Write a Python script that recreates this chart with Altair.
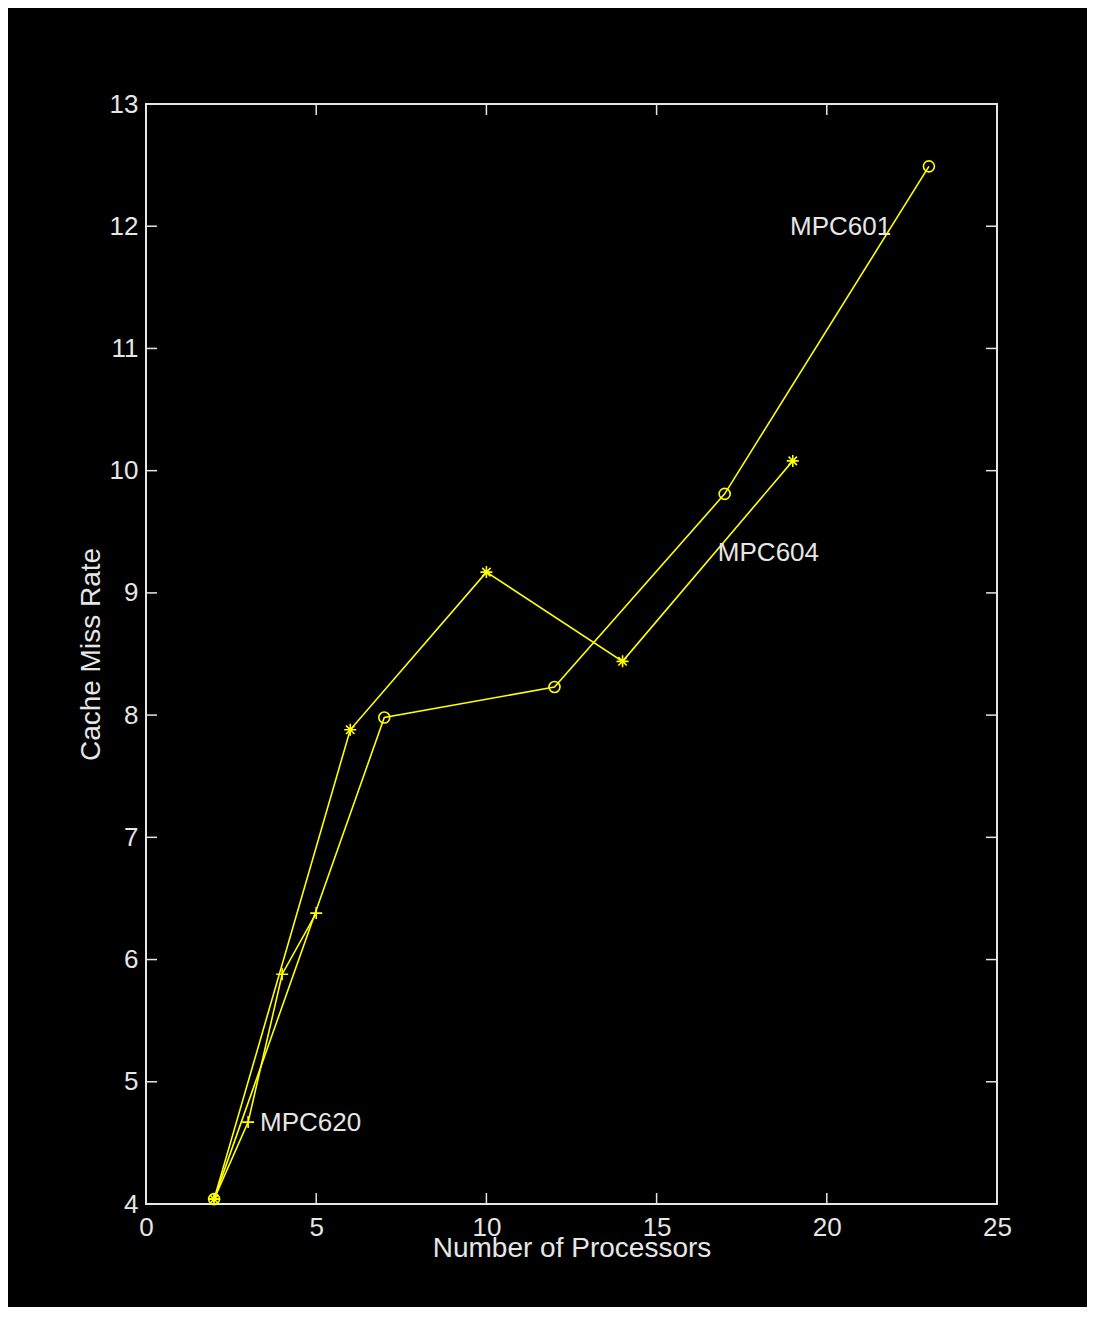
import altair as alt
import pandas as pd

# ---- data ----
mpc601_x = [2, 7, 12, 17, 23]
mpc601_y = [4.04, 7.98, 8.23, 9.81, 12.49]
mpc604_x = [2, 6, 10, 14, 19]
mpc604_y = [4.04, 7.88, 9.17, 8.44, 10.08]
mpc620_x = [2, 3, 4, 5]
mpc620_y = [4.04, 4.67, 5.88, 6.38]

label_text = ["MPC601", "MPC604", "MPC620"]
label_x = [18.92, 16.8, 3.35]
label_y = [11.99, 9.33, 4.66]

x_ticks = [0, 5, 10, 15, 20, 25]
y_ticks = [4, 5, 6, 7, 8, 9, 10, 11, 12, 13]

# ---- styling ----
FG = "#e6e6e6"
YEL = "#ffff00"
FONT = "Liberation Sans"
W, H = 851, 1100
TL = 11

rows = []
for name, xs, ys in [("MPC601", mpc601_x, mpc601_y),
                     ("MPC604", mpc604_x, mpc604_y),
                     ("MPC620", mpc620_x, mpc620_y)]:
    for i, (a, b) in enumerate(zip(xs, ys)):
        rows.append({"series": name, "x": a, "y": b, "i": i})
df = pd.DataFrame(rows)
labels = pd.DataFrame({"text": label_text, "x": label_x, "y": label_y})
xt = pd.DataFrame({"v": x_ticks})
yt = pd.DataFrame({"v": y_ticks})

xscale = alt.Scale(domain=[0, 25], nice=False, zero=False)
yscale = alt.Scale(domain=[4, 13], nice=False, zero=False)

xaxis = alt.Axis(values=x_ticks, format="d", title="Number of Processors", grid=False,
                 domain=False, ticks=False, labelFlush=False, labelOverlap=False,
                 labelPadding=10, labelFontSize=26, labelFont=FONT, labelColor=FG,
                 titleFontSize=28, titleFont=FONT, titleColor=FG,
                 titleFontWeight="normal", titleBaseline="alphabetic",
                 titleX=W / 2, titleY=52)
yaxis = alt.Axis(values=y_ticks, format="d", title="Cache Miss Rate", grid=False,
                 domain=False, ticks=False, labelFlush=False, labelOverlap=False,
                 labelPadding=8, labelFontSize=26, labelFont=FONT, labelColor=FG,
                 titleFontSize=28, titleFont=FONT, titleColor=FG,
                 titleFontWeight="normal", titleBaseline="alphabetic",
                 titleX=-47, titleY=H / 2)

lines = alt.Chart(df).mark_line(color=YEL, strokeWidth=1.6).encode(
    x=alt.X("x:Q", scale=xscale, axis=xaxis),
    y=alt.Y("y:Q", scale=yscale, axis=yaxis),
    detail="series:N",
    order="i:Q",
)

STAR = "M-1,0L1,0M0,-1L0,1M-0.7,-0.7L0.7,0.7M-0.7,0.7L0.7,-0.7"
PLUS = "M-1,0L1,0M0,-1L0,1"

def pts(name, shape, size):
    return alt.Chart(df[df.series == name]).mark_point(
        shape=shape, filled=False, color=YEL, strokeWidth=1.6, size=size, opacity=1
    ).encode(x="x:Q", y="y:Q")

p601 = pts("MPC601", "circle", 121)
p604 = pts("MPC604", STAR, 144)
p620 = pts("MPC620", PLUS, 144)

texts = alt.Chart(labels).mark_text(align="left", baseline="middle", fontSize=26,
                                    font=FONT, color=FG).encode(
    x="x:Q", y="y:Q", text="text:N")

tick_bottom = alt.Chart(xt).mark_rule(color=FG, strokeWidth=1.5).encode(
    x="v:Q", y=alt.value(H), y2=alt.value(H - TL))
tick_top = alt.Chart(xt).mark_rule(color=FG, strokeWidth=1.5).encode(
    x="v:Q", y=alt.value(0), y2=alt.value(TL))
tick_left = alt.Chart(yt).mark_rule(color=FG, strokeWidth=1.5).encode(
    y="v:Q", x=alt.value(0), x2=alt.value(TL))
tick_right = alt.Chart(yt).mark_rule(color=FG, strokeWidth=1.5).encode(
    y="v:Q", x=alt.value(W), x2=alt.value(W - TL))

chart = alt.layer(
    lines, tick_bottom, tick_top, tick_left, tick_right, p601, p604, p620, texts
).properties(
    width=W, height=H,
    background="black",
    padding={"left": 138, "top": 96, "right": 90, "bottom": 103},
    autosize=alt.AutoSizeParams(type="none"),
).configure_view(stroke=FG, strokeWidth=2)

chart.save("out.html", embed_options={"renderer": "svg", "actions": False})
